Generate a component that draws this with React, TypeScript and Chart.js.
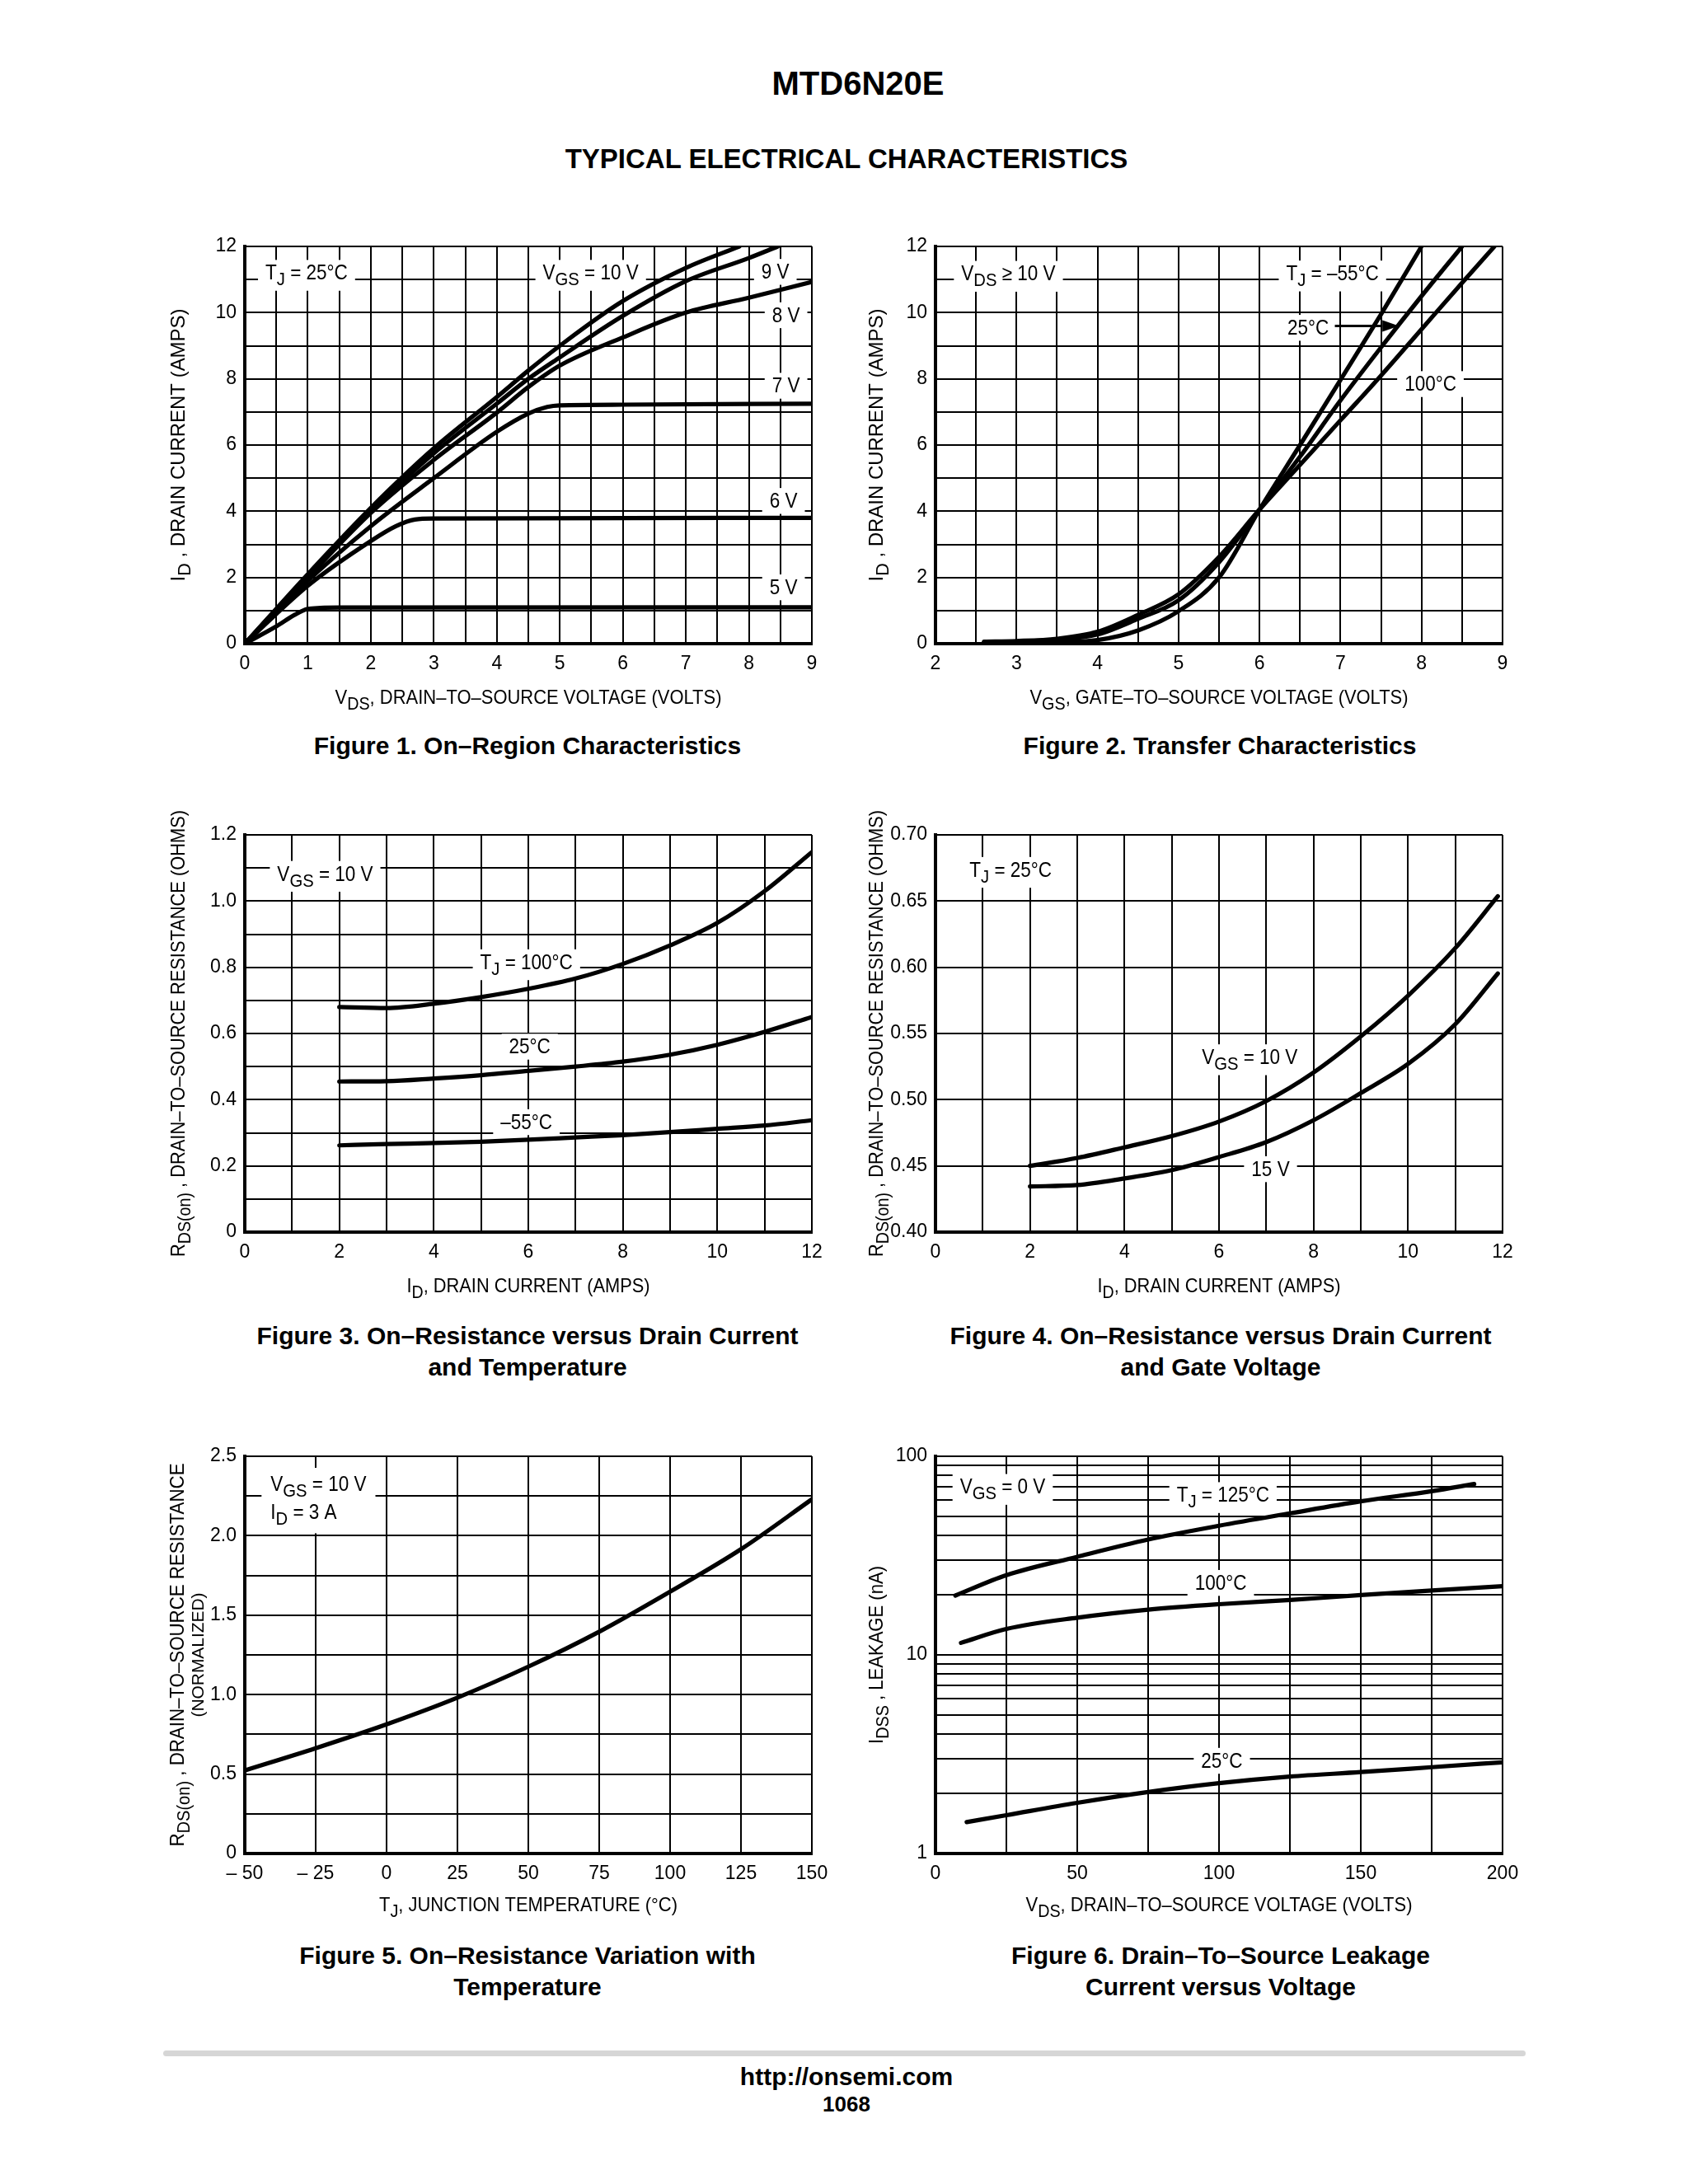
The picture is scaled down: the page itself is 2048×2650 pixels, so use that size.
import React, { useEffect, useRef } from 'react';
import { Chart, registerables } from 'chart.js';

Chart.register(...registerables);

const FONT = "'Liberation Sans', Arial, Helvetica, sans-serif";
const CAP = 0.716;
const SUB_SCALE = 0.9;
const SUB_SHIFT = 0.28;

// ---------------- Figure 1: On-Region Characteristics ----------------
const F1_X_10V = [0, 1, 2, 3, 4, 4.5, 5, 6, 7, 7.85];
const F1_Y_10V = [0, 2.1, 4.1, 5.9, 7.45, 8.25, 9.0, 10.35, 11.35, 12];
const F1_X_9V = [0, 1, 2, 3, 4, 4.5, 5, 6, 7, 8, 8.46];
const F1_Y_9V = [0, 2.05, 4.0, 5.75, 7.25, 8.0, 8.65, 9.9, 10.95, 11.65, 12];
const F1_X_8V = [0, 1, 2, 3, 4, 4.5, 5, 6, 7, 8, 9];
const F1_Y_8V = [0, 2.0, 3.95, 5.55, 6.98, 7.75, 8.4, 9.25, 10.0, 10.45, 10.93];
const F1_X_7V = [0, 1, 2, 3, 4, 4.5, 4.8, 5, 6, 9];
const F1_Y_7V = [0, 1.9, 3.55, 5.0, 6.4, 6.95, 7.15, 7.2, 7.22, 7.25];
const F1_X_6V = [0, 1, 2, 2.4, 2.7, 3, 9];
const F1_Y_6V = [0, 1.75, 3.1, 3.55, 3.75, 3.78, 3.8];
const F1_X_5V = [0, 0.5, 0.8, 1, 1.2, 1.5, 9];
const F1_Y_5V = [0, 0.52, 0.88, 1.05, 1.08, 1.09, 1.1];
const F1_X_LABELS = [0, 1, 2, 3, 4, 5, 6, 7, 8, 9];
const F1_Y_LABELS = [0, 2, 4, 6, 8, 10, 12];

// ---------------- Figure 2: Transfer Characteristics ----------------
const F2_X_M55 = [2.6, 3, 3.5, 4, 4.5, 5, 5.5, 6, 6.5, 7, 7.5, 8];
const F2_Y_M55 = [0.03, 0.03, 0.05, 0.11, 0.4, 0.98, 2.0, 4.05, 6.0, 7.97, 9.95, 12];
const F2_X_25 = [2.6, 3, 3.5, 4, 4.5, 5, 5.5, 6, 6.5, 7, 7.5, 8, 8.5];
const F2_Y_25 = [0.05, 0.06, 0.12, 0.28, 0.75, 1.31, 2.46, 4.05, 5.65, 7.35, 8.95, 10.5, 12];
const F2_X_100 = [2.6, 3, 3.5, 4, 4.5, 5, 5.5, 6, 6.5, 7, 7.5, 8, 8.5, 8.9];
const F2_Y_100 = [0.06, 0.08, 0.15, 0.36, 0.87, 1.49, 2.62, 4.05, 5.4, 6.75, 8.1, 9.5, 10.9, 12];
const F2_X_LABELS = [2, 3, 4, 5, 6, 7, 8, 9];
const F2_Y_LABELS = [0, 2, 4, 6, 8, 10, 12];

// ---------------- Figure 3: RDS(on) vs ID and temperature ----------------
const F3_ID = [2, 3, 4, 5, 6, 7, 8, 9, 10, 11, 12];
const F3_R_100 = [0.68, 0.677, 0.69, 0.71, 0.735, 0.766, 0.81, 0.866, 0.934, 1.03, 1.148];
const F3_R_25 = [0.455, 0.456, 0.464, 0.474, 0.487, 0.5, 0.515, 0.536, 0.566, 0.605, 0.65];
const F3_R_M55 = [0.262, 0.266, 0.269, 0.273, 0.279, 0.286, 0.293, 0.302, 0.312, 0.322, 0.338];
const F3_X_LABELS = [0, 2, 4, 6, 8, 10, 12];
const F3_Y_LABELS = [0, 0.2, 0.4, 0.6, 0.8, 1.0, 1.2];

// ---------------- Figure 4: RDS(on) vs ID and gate voltage ----------------
const F4_ID = [2, 3, 4, 5, 6, 7, 8, 9, 10, 11, 11.9];
const F4_R_10V = [0.45, 0.456, 0.464, 0.4725, 0.4835, 0.499, 0.5205, 0.5478, 0.5786, 0.6145, 0.6537];
const F4_R_15V = [0.4345, 0.4355, 0.4405, 0.4468, 0.4567, 0.468, 0.4845, 0.505, 0.527, 0.557, 0.5953];
const F4_X_LABELS = [0, 2, 4, 6, 8, 10, 12];
const F4_Y_LABELS = [0.4, 0.45, 0.5, 0.55, 0.6, 0.65, 0.7];

// ---------------- Figure 5: RDS(on) vs temperature ----------------
const F5_TJ = [-50, -25, 0, 25, 50, 75, 100, 125, 150];
const F5_R = [0.523, 0.663, 0.813, 0.981, 1.176, 1.396, 1.648, 1.915, 2.229];
const F5_X_LABELS = [-50, -25, 0, 25, 50, 75, 100, 125, 150];
const F5_Y_LABELS = [0, 0.5, 1.0, 1.5, 2.0, 2.5];

// ---------------- Figure 6: IDSS leakage vs VDS ----------------
const F6_X_125 = [7, 25, 50, 75, 100, 125, 150, 175, 190];
const F6_Y_125 = [19.9, 25.2, 31.2, 38.1, 44.7, 51.6, 59.3, 66.7, 72.5];
const F6_X_100 = [9, 25, 50, 75, 100, 125, 150, 175, 200];
const F6_Y_100 = [11.5, 13.5, 15.4, 16.9, 18.0, 18.9, 20.0, 21.1, 22.2];
const F6_X_25 = [11, 25, 50, 75, 100, 125, 150, 175, 200];
const F6_Y_25 = [1.44, 1.56, 1.8, 2.04, 2.26, 2.44, 2.57, 2.72, 2.88];
const F6_X_LABELS = [0, 50, 100, 150, 200];
const F6_Y_LABELS = [1, 10, 100];
const F6_Y_GRID = [1, 2, 3, 4, 5, 6, 7, 8, 9, 10, 20, 30, 40, 50, 60, 70, 80, 90, 100];

// ---------------- layout ----------------
const PW = 688;
const PH = 482;
const PAD_L = 120;
const PAD_R = 40;
const PAD_T = 30;
const PAD_B = 95;

type Part = [string, boolean];
type AxisSpec = {
  min: number;
  max: number;
  grid: number[];
  labels: number[];
  fmt: (v: number) => string;
  log?: boolean;
};
type LabelSpec = {
  x: number;
  y: number;
  text: string[];
  align?: 'center' | 'left';
  size?: number;
  sx?: number;
  gap?: number;
  padX?: number;
  padY?: number;
};
type TitleSpec = { text: string; width: number; off: number; size?: number };
type ArrowSpec = { x1: number; y1: number; x2: number; y2: number };
type Series = { xs: number[]; ys: number[] };
type Spec = {
  left: number;
  top: number;
  series: Series[];
  x: AxisSpec;
  y: AxisSpec;
  labels: LabelSpec[];
  xTitle: TitleSpec;
  yTitles: TitleSpec[];
  arrows?: ArrowSpec[];
};

function steps(a: number, b: number, s: number): number[] {
  const out: number[] = [];
  const n = Math.round((b - a) / s);
  for (let i = 0; i <= n; i++) out.push(Math.round((a + i * s) * 1e6) / 1e6);
  return out;
}

function parse(s: string): Part[] {
  const out: Part[] = [];
  const re = /_\{([^}]*)\}/g;
  let last = 0;
  let m: RegExpExecArray | null;
  while ((m = re.exec(s))) {
    if (m.index > last) out.push([s.slice(last, m.index), false]);
    out.push([m[1], true]);
    last = re.lastIndex;
  }
  if (last < s.length) out.push([s.slice(last), false]);
  return out;
}

function measure(ctx: CanvasRenderingContext2D, parts: Part[], size: number): number {
  let w = 0;
  for (const [t, sub] of parts) {
    ctx.font = `${sub ? size * SUB_SCALE : size}px ${FONT}`;
    w += ctx.measureText(t).width;
  }
  return w;
}

function drawParts(ctx: CanvasRenderingContext2D, parts: Part[], x: number, base: number, size: number, sx: number) {
  ctx.save();
  ctx.translate(x, base);
  ctx.scale(sx, 1);
  ctx.textAlign = 'left';
  ctx.textBaseline = 'alphabetic';
  ctx.fillStyle = '#000';
  let cx = 0;
  for (const [t, sub] of parts) {
    ctx.font = `${sub ? size * SUB_SCALE : size}px ${FONT}`;
    ctx.fillText(t, cx, sub ? size * SUB_SHIFT : 0);
    cx += ctx.measureText(t).width;
  }
  ctx.restore();
}

function makePlugin(spec: Spec) {
  return {
    id: 'sheetText',
    beforeDatasetsDraw(chart: any) {
      const ctx: CanvasRenderingContext2D = chart.ctx;
      const xs = chart.scales.x;
      const ys = chart.scales.y;
      ctx.save();
      for (const L of spec.labels) {
        const px = xs.getPixelForValue(L.x);
        const py = ys.getPixelForValue(L.y);
        const size = L.size ?? 25;
        const sx = L.sx ?? 0.9;
        const gap = L.gap ?? 34;
        const lines = L.text.map(parse);
        const widths = lines.map((p) => measure(ctx, p, size) * sx);
        const maxW = Math.max(...widths);
        const base0 = py + (CAP * size) / 2;
        const left = L.align === 'left' ? px : px - maxW / 2;
        const padX = L.padX ?? 9;
        const padY = L.padY ?? 6;
        const lastSub = lines[lines.length - 1].some((p) => p[1]);
        const top = base0 - CAP * size - padY;
        const bottom = base0 + (lines.length - 1) * gap + (lastSub ? 0.3 * size : 0.06 * size) + padY;
        ctx.fillStyle = '#fff';
        ctx.fillRect(left - padX, top, maxW + 2 * padX, bottom - top);
        lines.forEach((p, i) => {
          const lx = L.align === 'left' ? left : px - widths[i] / 2;
          drawParts(ctx, p, lx, base0 + i * gap, size, sx);
        });
      }
      for (const a of spec.arrows ?? []) {
        const x1 = xs.getPixelForValue(a.x1);
        const y1 = ys.getPixelForValue(a.y1);
        const x2 = xs.getPixelForValue(a.x2);
        const y2 = ys.getPixelForValue(a.y2);
        const ang = Math.atan2(y2 - y1, x2 - x1);
        const hl = 20;
        const hw = 7;
        const bx = x2 - hl * Math.cos(ang);
        const by = y2 - hl * Math.sin(ang);
        ctx.strokeStyle = '#000';
        ctx.lineWidth = 3;
        ctx.beginPath();
        ctx.moveTo(x1, y1);
        ctx.lineTo(bx, by);
        ctx.stroke();
        ctx.fillStyle = '#000';
        ctx.beginPath();
        ctx.moveTo(x2, y2);
        ctx.lineTo(bx + hw * Math.sin(ang), by - hw * Math.cos(ang));
        ctx.lineTo(bx - hw * Math.sin(ang), by + hw * Math.cos(ang));
        ctx.closePath();
        ctx.fill();
      }
      ctx.restore();
    },
    afterDraw(chart: any) {
      const ctx: CanvasRenderingContext2D = chart.ctx;
      const area = chart.chartArea;
      ctx.save();
      {
        const T = spec.xTitle;
        const size = T.size ?? 24;
        const parts = parse(T.text);
        const nat = measure(ctx, parts, size);
        const sx = T.width / nat;
        const cx = (area.left + area.right) / 2;
        drawParts(ctx, parts, cx - T.width / 2, area.bottom + T.off, size, sx);
      }
      for (const T of spec.yTitles) {
        const size = T.size ?? 24;
        const parts = parse(T.text);
        const nat = measure(ctx, parts, size);
        const sx = T.width / nat;
        const cy = (area.top + area.bottom) / 2;
        ctx.save();
        ctx.translate(area.left - T.off, cy);
        ctx.rotate(-Math.PI / 2);
        drawParts(ctx, parts, -T.width / 2, 0, size, sx);
        ctx.restore();
      }
      ctx.restore();
    },
  };
}

function axisOptions(a: AxisSpec, isX: boolean) {
  return {
    type: a.log ? 'logarithmic' : 'linear',
    position: isX ? 'bottom' : 'left',
    min: a.min,
    max: a.max,
    afterBuildTicks: (s: any) => {
      s.ticks = a.grid.map((v) => ({ value: v }));
    },
    afterFit: (s: any) => {
      if (isX) s.height = PAD_B;
      else s.width = PAD_L;
    },
    ticks: {
      autoSkip: false,
      maxRotation: 0,
      minRotation: 0,
      padding: isX ? 11 : 10,
      color: '#000',
      font: { family: FONT, size: 23 },
      callback: (v: any) => {
        const n = Number(v);
        const hit = a.labels.find((l) => Math.abs(l - n) < 1e-7);
        return hit === undefined ? '' : a.fmt(hit);
      },
    },
    grid: { color: '#000', lineWidth: 2, drawTicks: false },
    border: { display: true, color: '#000', width: 4 },
  };
}

function Plot({ spec }: { spec: Spec }) {
  const ref = useRef<HTMLCanvasElement>(null);
  const W = PAD_L + PW + PAD_R;
  const H = PAD_T + PH + PAD_B;
  useEffect(() => {
    if (!ref.current) return;
    const datasets = spec.series.map((s) => ({
      data: s.xs.map((x, i) => ({ x, y: s.ys[i] })),
      borderColor: '#000',
      borderWidth: 5.2,
      pointRadius: 0,
      fill: false,
      cubicInterpolationMode: 'monotone' as const,
      borderCapStyle: 'round' as const,
    }));
    const chart = new Chart(ref.current, {
      type: 'line',
      data: { datasets },
      options: {
        responsive: false,
        animation: false,
        devicePixelRatio: 1,
        events: [],
        layout: { padding: { left: 0, top: PAD_T, right: PAD_R, bottom: 0 } },
        plugins: { legend: { display: false }, tooltip: { enabled: false }, title: { display: false } },
        scales: {
          x: axisOptions(spec.x, true) as any,
          y: axisOptions(spec.y, false) as any,
        },
      },
      plugins: [makePlugin(spec)],
    });
    return () => chart.destroy();
  }, []);
  return (
    <canvas
      ref={ref}
      width={W}
      height={H}
      style={{ position: 'absolute', left: spec.left - PAD_L, top: spec.top - PAD_T, width: W, height: H }}
    />
  );
}

const fmtInt = (v: number) => String(v);
const fmt1 = (v: number) => (v === 0 ? '0' : v.toFixed(1));
const fmt2 = (v: number) => v.toFixed(2);
const fmtTemp = (v: number) => (v < 0 ? `– ${Math.abs(v)}` : String(v));

const SPECS: Spec[] = [
  {
    left: 297,
    top: 299,
    series: [
      { xs: F1_X_10V, ys: F1_Y_10V },
      { xs: F1_X_9V, ys: F1_Y_9V },
      { xs: F1_X_8V, ys: F1_Y_8V },
      { xs: F1_X_7V, ys: F1_Y_7V },
      { xs: F1_X_6V, ys: F1_Y_6V },
      { xs: F1_X_5V, ys: F1_Y_5V },
    ],
    x: { min: 0, max: 9, grid: steps(0, 9, 0.5), labels: F1_X_LABELS, fmt: fmtInt },
    y: { min: 0, max: 12, grid: steps(0, 12, 1), labels: F1_Y_LABELS, fmt: fmtInt },
    labels: [
      { x: 0.98, y: 11.22, text: ['T_{J} = 25°C'] },
      { x: 5.49, y: 11.22, text: ['V_{GS} = 10 V'] },
      { x: 8.42, y: 11.25, text: ['9 V'] },
      { x: 8.59, y: 9.94, text: ['8 V'] },
      { x: 8.59, y: 7.81, text: ['7 V'] },
      { x: 8.55, y: 4.33, text: ['6 V'] },
      { x: 8.55, y: 1.72, text: ['5 V'] },
    ],
    xTitle: { text: 'V_{DS}, DRAIN–TO–SOURCE VOLTAGE (VOLTS)', width: 469, off: 73 },
    yTitles: [{ text: 'I_{D} , DRAIN CURRENT (AMPS)', width: 331, off: 73 }],
  },
  {
    left: 1135,
    top: 299,
    series: [
      { xs: F2_X_M55, ys: F2_Y_M55 },
      { xs: F2_X_25, ys: F2_Y_25 },
      { xs: F2_X_100, ys: F2_Y_100 },
    ],
    x: { min: 2, max: 9, grid: steps(2, 9, 0.5), labels: F2_X_LABELS, fmt: fmtInt },
    y: { min: 0, max: 12, grid: steps(0, 12, 1), labels: F2_Y_LABELS, fmt: fmtInt },
    labels: [
      { x: 2.9, y: 11.19, text: ['V_{DS} ≥ 10 V'] },
      { x: 6.9, y: 11.2, text: ['T_{J} = –55°C'] },
      { x: 6.6, y: 9.56, text: ['25°C'] },
      { x: 8.11, y: 7.86, text: ['100°C'] },
    ],
    arrows: [{ x1: 6.93, y1: 9.6, x2: 7.72, y2: 9.6 }],
    xTitle: { text: 'V_{GS}, GATE–TO–SOURCE VOLTAGE (VOLTS)', width: 459, off: 73 },
    yTitles: [{ text: 'I_{D} , DRAIN CURRENT (AMPS)', width: 331, off: 64 }],
  },
  {
    left: 297,
    top: 1013,
    series: [
      { xs: F3_ID, ys: F3_R_100 },
      { xs: F3_ID, ys: F3_R_25 },
      { xs: F3_ID, ys: F3_R_M55 },
    ],
    x: { min: 0, max: 12, grid: steps(0, 12, 1), labels: F3_X_LABELS, fmt: fmtInt },
    y: { min: 0, max: 1.2, grid: steps(0, 1.2, 0.1), labels: F3_Y_LABELS, fmt: fmt1 },
    labels: [
      { x: 1.7, y: 1.084, text: ['V_{GS} = 10 V'] },
      { x: 5.96, y: 0.817, text: ['T_{J} = 100°C'] },
      { x: 6.03, y: 0.562, text: ['25°C'] },
      { x: 5.96, y: 0.334, text: ['–55°C'] },
    ],
    xTitle: { text: 'I_{D}, DRAIN CURRENT (AMPS)', width: 295, off: 73 },
    yTitles: [{ text: 'R_{DS(on)} , DRAIN–TO–SOURCE RESISTANCE (OHMS)', width: 542, off: 73 }],
  },
  {
    left: 1135,
    top: 1013,
    series: [
      { xs: F4_ID, ys: F4_R_10V },
      { xs: F4_ID, ys: F4_R_15V },
    ],
    x: { min: 0, max: 12, grid: steps(0, 12, 1), labels: F4_X_LABELS, fmt: fmtInt },
    y: { min: 0.4, max: 0.7, grid: steps(0.4, 0.7, 0.05), labels: F4_Y_LABELS, fmt: fmt2 },
    labels: [
      { x: 1.59, y: 0.674, text: ['T_{J} = 25°C'] },
      { x: 6.65, y: 0.5325, text: ['V_{GS} = 10 V'] },
      { x: 7.09, y: 0.448, text: ['15 V'] },
    ],
    xTitle: { text: 'I_{D}, DRAIN CURRENT (AMPS)', width: 295, off: 73 },
    yTitles: [{ text: 'R_{DS(on)} , DRAIN–TO–SOURCE RESISTANCE (OHMS)', width: 542, off: 64 }],
  },
  {
    left: 297,
    top: 1767,
    series: [{ xs: F5_TJ, ys: F5_R }],
    x: { min: -50, max: 150, grid: steps(-50, 150, 25), labels: F5_X_LABELS, fmt: fmtTemp },
    y: { min: 0, max: 2.5, grid: steps(0, 2.5, 0.25), labels: F5_Y_LABELS, fmt: fmt1 },
    labels: [
      { x: -40.9, y: 2.329, align: 'left', text: ['V_{GS} = 10 V', 'I_{D} = 3 A'], gap: 34, padX: 11, padY: 10 },
    ],
    xTitle: { text: 'T_{J}, JUNCTION TEMPERATURE (°C)', width: 362, off: 70 },
    yTitles: [
      { text: 'R_{DS(on)} , DRAIN–TO–SOURCE RESISTANCE', width: 465, off: 74 },
      { text: '(NORMALIZED)', width: 151, off: 50, size: 21 },
    ],
  },
  {
    left: 1135,
    top: 1767,
    series: [
      { xs: F6_X_125, ys: F6_Y_125 },
      { xs: F6_X_100, ys: F6_Y_100 },
      { xs: F6_X_25, ys: F6_Y_25 },
    ],
    x: { min: 0, max: 200, grid: steps(0, 200, 25), labels: F6_X_LABELS, fmt: fmtInt },
    y: { min: 1, max: 100, grid: F6_Y_GRID, labels: F6_Y_LABELS, fmt: fmtInt, log: true },
    labels: [
      { x: 23.7, y: 70.6, text: ['V_{GS} = 0 V'] },
      { x: 101.4, y: 64.2, text: ['T_{J} = 125°C'] },
      { x: 100.6, y: 23.2, text: ['100°C'] },
      { x: 101, y: 2.95, text: ['25°C'] },
    ],
    xTitle: { text: 'V_{DS}, DRAIN–TO–SOURCE VOLTAGE (VOLTS)', width: 469, off: 70 },
    yTitles: [{ text: 'I_{DSS} , LEAKAGE (nA)', width: 216, off: 64 }],
  },
];

const CAPTIONS: { cx: number; base: number; lines: string[] }[] = [
  { cx: 640, base: 915, lines: ['Figure 1. On–Region Characteristics'] },
  { cx: 1480, base: 915, lines: ['Figure 2. Transfer Characteristics'] },
  { cx: 640, base: 1631, lines: ['Figure 3. On–Resistance versus Drain Current', 'and Temperature'] },
  { cx: 1481, base: 1631, lines: ['Figure 4. On–Resistance versus Drain Current', 'and Gate Voltage'] },
  { cx: 640, base: 2383, lines: ['Figure 5. On–Resistance Variation with', 'Temperature'] },
  { cx: 1481, base: 2383, lines: ['Figure 6. Drain–To–Source Leakage', 'Current versus Voltage'] },
];

function TextAt({ cx, base, size, text }: { cx: number; base: number; size: number; text: string }) {
  return (
    <div
      style={{
        position: 'absolute',
        left: cx - 700,
        width: 1400,
        top: base - 0.905 * size,
        height: 1.117 * size,
        lineHeight: `${1.117 * size}px`,
        textAlign: 'center',
        fontFamily: FONT,
        fontWeight: 700,
        fontSize: size,
        whiteSpace: 'nowrap',
        color: '#000',
      }}
    >
      {text}
    </div>
  );
}

export default function App() {
  return (
    <div
      style={{
        position: 'absolute',
        left: 0,
        top: 0,
        width: 2048,
        height: 2650,
        background: '#fff',
        overflow: 'hidden',
      }}
    >
      <TextAt cx={1041} base={115} size={40} text="MTD6N20E" />
      <TextAt cx={1027} base={205} size={33} text="TYPICAL ELECTRICAL CHARACTERISTICS" />
      {SPECS.map((s, i) => (
        <Plot key={i} spec={s} />
      ))}
      {CAPTIONS.map((c, i) =>
        c.lines.map((t, j) => <TextAt key={`${i}-${j}`} cx={c.cx} base={c.base + j * 38} size={30} text={t} />)
      )}
      <div
        style={{
          position: 'absolute',
          left: 198,
          top: 2488,
          width: 1653,
          height: 7,
          borderRadius: 4,
          background: '#d6d6d6',
        }}
      />
      <TextAt cx={1027} base={2530} size={30} text="http://onsemi.com" />
      <TextAt cx={1027} base={2563} size={26} text="1068" />
    </div>
  );
}
